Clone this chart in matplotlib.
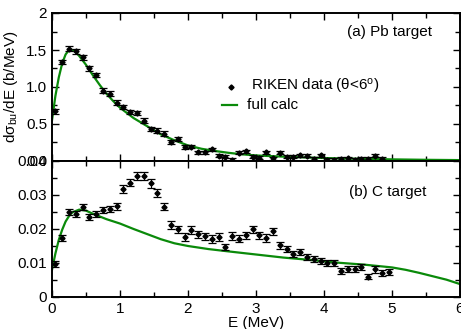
import matplotlib
matplotlib.use("Agg")
import matplotlib.pyplot as plt
from matplotlib.ticker import MultipleLocator, FixedLocator, FixedFormatter
from matplotlib.lines import Line2D

plt.rcParams['font.family'] = ['Liberation Sans', 'DejaVu Sans']
plt.rcParams['mathtext.fontset'] = 'custom'
plt.rcParams['mathtext.rm'] = 'Liberation Sans'
plt.rcParams['mathtext.it'] = 'Liberation Sans'

# ---- (a) Pb target data ----
e_pb = [0.05, 0.15, 0.25, 0.35, 0.45, 0.55, 0.65, 0.75, 0.85, 0.95,
        1.05, 1.15, 1.25, 1.35, 1.45, 1.55, 1.65, 1.75, 1.85, 1.95,
        2.05, 2.15, 2.25, 2.35, 2.45, 2.55, 2.65, 2.75, 2.85, 2.95,
        3.05, 3.15, 3.25, 3.35, 3.45, 3.55, 3.65, 3.75, 3.85, 3.95,
        4.05, 4.15, 4.25, 4.35, 4.45, 4.55, 4.65, 4.75, 4.85]
y_pb = [0.67, 1.34, 1.52, 1.48, 1.40, 1.25, 1.16, 0.95, 0.91, 0.79,
        0.73, 0.66, 0.65, 0.545, 0.43, 0.41, 0.37, 0.26, 0.30, 0.19,
        0.19, 0.12, 0.12, 0.16, 0.07, 0.06, 0.02, 0.11, 0.13, 0.06,
        0.045, 0.12, 0.04, 0.11, 0.06, 0.06, 0.08, 0.07, 0.03, 0.08,
        0.02, 0.02, 0.03, 0.04, 0.02, 0.03, 0.03, 0.07, 0.03]
err_pb = [0.03, 0.03, 0.03, 0.03, 0.03, 0.03, 0.03, 0.03, 0.03, 0.03,
          0.03, 0.03, 0.03, 0.03, 0.03, 0.03, 0.03, 0.03, 0.03, 0.03,
          0.02, 0.02, 0.02, 0.02, 0.02, 0.02, 0.02, 0.02, 0.02, 0.02,
          0.02, 0.02, 0.02, 0.02, 0.02, 0.02, 0.02, 0.02, 0.02, 0.02,
          0.02, 0.02, 0.02, 0.02, 0.02, 0.02, 0.02, 0.02, 0.02]

calc_e_pb = [0.0, 0.05, 0.1, 0.15, 0.2, 0.25, 0.3, 0.35, 0.4, 0.5, 0.6, 0.7,
             0.8, 0.9, 1.0, 1.2, 1.4, 1.6, 1.8, 2.0, 2.2, 2.4, 2.6, 2.8,
             3.0, 3.5, 4.0, 4.5, 5.0, 5.5, 6.0]
calc_pb = [0.55, 0.88, 1.13, 1.32, 1.44, 1.50, 1.50, 1.47, 1.42, 1.30, 1.16, 1.03,
           0.91, 0.81, 0.72, 0.58, 0.47, 0.36, 0.28, 0.21, 0.165, 0.135, 0.11, 0.09,
           0.075, 0.055, 0.04, 0.03, 0.022, 0.016, 0.012]

# ---- (b) C target data ----
e_c = [0.05, 0.15, 0.25, 0.35, 0.45, 0.55, 0.65, 0.75, 0.85, 0.95,
       1.05, 1.15, 1.25, 1.35, 1.45, 1.55, 1.65, 1.75, 1.85, 1.95,
       2.05, 2.15, 2.25, 2.35, 2.45, 2.55, 2.65, 2.75, 2.85, 2.95,
       3.05, 3.15, 3.25, 3.35, 3.45, 3.55, 3.65, 3.75, 3.85, 3.95,
       4.05, 4.15, 4.25, 4.35, 4.45, 4.55, 4.65, 4.75, 4.85, 4.95]
y_c = [0.0097, 0.0174, 0.0249, 0.0243, 0.0265, 0.0236, 0.0244, 0.0255, 0.0258, 0.0267,
       0.0317, 0.0336, 0.0355, 0.0356, 0.0334, 0.0305, 0.0265, 0.0212, 0.0199, 0.0176,
       0.0197, 0.0184, 0.0178, 0.0170, 0.0176, 0.0147, 0.0179, 0.0172, 0.0181, 0.0199,
       0.0181, 0.0174, 0.0193, 0.0152, 0.0142, 0.0126, 0.0133, 0.0117, 0.0113, 0.0107,
       0.0101, 0.0099, 0.0076, 0.0083, 0.0083, 0.0089, 0.0060, 0.0081, 0.0070, 0.0074]
err_c = [0.0008, 0.0008, 0.0009, 0.0009, 0.0009, 0.0009, 0.0009, 0.0009, 0.0009, 0.0010,
         0.0011, 0.0011, 0.0012, 0.0012, 0.0012, 0.0012, 0.0010, 0.0011, 0.0011, 0.0011,
         0.0011, 0.0011, 0.0011, 0.0011, 0.0011, 0.0010, 0.0011, 0.0011, 0.0011, 0.0011,
         0.0011, 0.0011, 0.0011, 0.0010, 0.0009, 0.0009, 0.0009, 0.0009, 0.0009, 0.0009,
         0.0009, 0.0009, 0.0009, 0.0009, 0.0008, 0.0009, 0.0008, 0.0009, 0.0008, 0.0008]

calc_e_c = [0.0, 0.05, 0.1, 0.15, 0.2, 0.25, 0.3, 0.4, 0.5, 0.6, 0.7, 0.8, 1.0,
            1.2, 1.4, 1.6, 1.8, 2.0, 2.3, 2.6, 3.0, 3.4, 3.8, 4.2, 4.6, 5.0,
            5.2, 5.4, 5.6, 5.8, 6.0]
calc_c = [0.0080, 0.0128, 0.0168, 0.0198, 0.0222, 0.0238, 0.0249, 0.0257, 0.0254, 0.0245,
          0.0237, 0.0229, 0.0216, 0.0200, 0.0185, 0.0170, 0.0158, 0.0150, 0.0141, 0.0134,
          0.0125, 0.0116, 0.0109, 0.0101, 0.0095, 0.0087, 0.0080, 0.0071, 0.0061, 0.0051,
          0.0038]

green = '#0a8a0a'
W, H = 461, 329
fig = plt.figure(figsize=(W / 100, H / 100), dpi=100)
ax1 = fig.add_axes([52 / W, 1 - 161 / H, 408 / W, 148 / H])
ax2 = fig.add_axes([52 / W, 1 - 297 / H, 408 / W, 136 / H])


def style(ax):
    for s in ax.spines.values():
        s.set_linewidth(1.4)
    ax.tick_params(which='both', direction='in', top=True, right=True,
                   width=1.0, labelsize=11)
    ax.tick_params(which='major', length=5)
    ax.tick_params(which='minor', length=3.5)
    ax.xaxis.set_major_locator(MultipleLocator(1))
    ax.xaxis.set_minor_locator(MultipleLocator(0.5))
    ax.set_xlim(0, 6)


# top panel
style(ax1)
ax1.plot(calc_e_pb, calc_pb, color=green, lw=1.6, zorder=2)
ax1.errorbar(e_pb, y_pb, yerr=err_pb, fmt='D', ms=2.6, color='black',
             ecolor='black', elinewidth=0.8, capsize=3, capthick=0.9, zorder=3)
ax1.set_ylim(0, 2)
ax1.yaxis.set_major_locator(FixedLocator([0, 0.5, 1.0, 1.5, 2.0]))
ax1.yaxis.set_major_formatter(FixedFormatter(['0.0', '0.5', '1.0', '1.5', '2']))
ax1.yaxis.set_minor_locator(MultipleLocator(0.25))
ax1.tick_params(labelbottom=False)
ax1.set_ylabel('dσ$_{\\mathrm{bu}}$/dE (b/MeV)', fontsize=11, labelpad=4)
ax1.text(432 / W, 1 - 32 / H, '(a) Pb target', transform=fig.transFigure,
         ha='right', va='center', fontsize=11)

# legend drawn by hand in figure coords
fig.lines.append(Line2D([231 / W], [1 - 87 / H], marker='D', ms=2.6, color='black',
                        transform=fig.transFigure))
fig.lines.append(Line2D([222 / W, 237 / W], [1 - 105 / H, 1 - 105 / H], color=green,
                        lw=1.6, transform=fig.transFigure))
fig.text(251 / W, 1 - 87 / H, 'RIKEN data (θ<6$^{\\mathrm{o}}$)',
         ha='left', va='center', fontsize=11)
fig.text(247 / W, 1 - 105 / H, 'full calc', ha='left', va='center', fontsize=11)

# bottom panel
style(ax2)
ax2.plot(calc_e_c, calc_c, color=green, lw=1.6, zorder=2)
ax2.errorbar(e_c, y_c, yerr=err_c, fmt='D', ms=2.6, color='black',
             ecolor='black', elinewidth=0.8, capsize=3, capthick=0.9, zorder=3)
ax2.set_ylim(0, 0.04)
ax2.yaxis.set_major_locator(FixedLocator([0, 0.01, 0.02, 0.03, 0.04]))
ax2.yaxis.set_major_formatter(FixedFormatter(['0', '0.01', '0.02', '0.03', '0.04']))
ax2.yaxis.set_minor_locator(MultipleLocator(0.005))
ax2.set_xticks([0, 1, 2, 3, 4, 5, 6])
ax2.set_xticklabels(['0', '1', '2', '3', '4', '5', '6'])
ax2.set_xlabel('E (MeV)', fontsize=11, labelpad=0)
ax2.text(426 / W, 1 - 192 / H, '(b) C target', transform=fig.transFigure,
         ha='right', va='center', fontsize=11)

fig.savefig('out.png', dpi=100)
